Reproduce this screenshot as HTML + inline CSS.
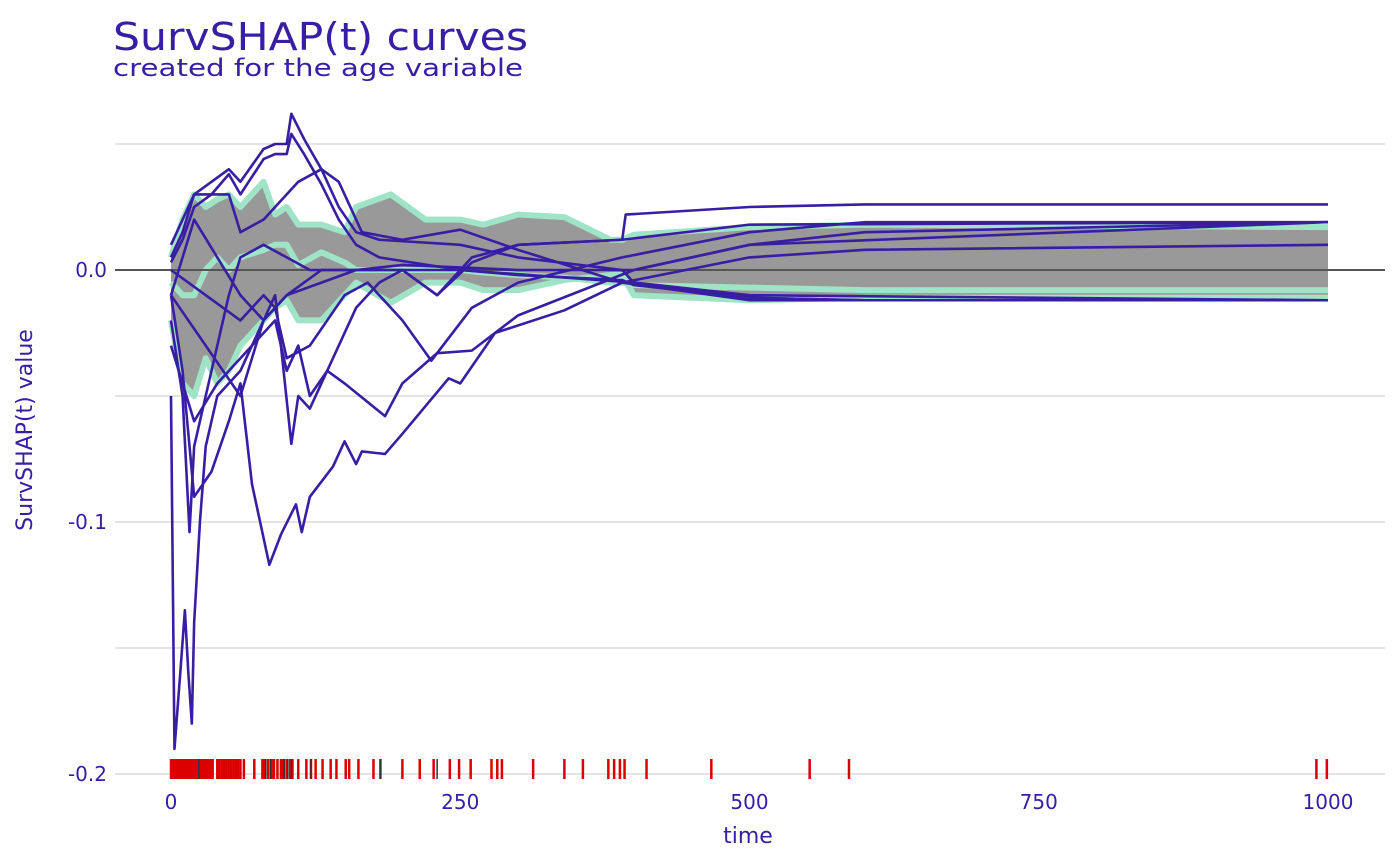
<!DOCTYPE html>
<html><head><meta charset="utf-8"><style>
html,body{margin:0;padding:0;background:#fff}
svg{display:block;font-family:"DejaVu Sans","Liberation Sans",sans-serif}
</style></head><body>
<svg id="chart" width="1400" height="866" viewBox="0 0 1400 866" xmlns="http://www.w3.org/2000/svg">
<text x="113" y="50" font-size="38" fill="#371ea3" textLength="415" lengthAdjust="spacingAndGlyphs">SurvSHAP(t) curves</text>
<text x="113" y="76" font-size="24" fill="#371ea3" textLength="410" lengthAdjust="spacingAndGlyphs">created for the age variable</text>
<text transform="translate(32,430) rotate(-90)" text-anchor="middle" font-size="22" fill="#371ea3">SurvSHAP(t) value</text>
<text x="748" y="843" text-anchor="middle" font-size="22" fill="#371ea3">time</text>
<g id="grid"></g>
<g id="band"></g>
<g id="curves"></g>
<g id="rug"></g>
<g id="axes"></g>
</svg>
<script>
const xTicks=[0,250,500,750,1000];
const yTicks=[-0.2,-0.1,0.0];
const yGrid=[-0.2,-0.15,-0.1,-0.05,0.05];
const bandTimes=[0,10,20,30,40,50,60,80,90,100,110,130,150,160,190,220,250,270,300,340,380,390,400,500,600,1000];
const bandUpper=[0.005,0.02,0.03,0.025,0.028,0.03,0.025,0.035,0.022,0.025,0.018,0.018,0.015,0.025,0.03,0.02,0.02,0.018,0.022,0.021,0.012,0.012,0.014,0.017,0.018,0.017];
const bandLower=[-0.02,-0.045,-0.05,-0.035,-0.045,-0.04,-0.03,-0.02,-0.015,-0.012,-0.02,-0.02,-0.01,-0.005,-0.013,-0.005,-0.005,-0.008,-0.008,-0.004,-0.002,-0.002,-0.01,-0.012,-0.011,-0.011];
const bandMean=[-0.005,-0.01,-0.01,0.0,0.005,0.0,0.005,0.008,0.01,0.01,0.002,0.007,0.003,0.0,0.0,0.0,0.0,-0.001,-0.002,-0.003,-0.005,-0.005,-0.006,-0.007,-0.008,-0.008];
const curveTimes=[
[0,10,20,35,50,60,80,90,100,104,115,130,145,160,180,250,300,390,400,500,600,1000],
[0,10,20,35,50,60,80,90,100,104,115,130,145,160,180,250,300,390,400,500,600,1000],
[0,20,50,60,80,110,130,145,165,200,250,300,390,500,1000],
[0,10,20,40,60,80,100,130,160,200,230,260,300,390,393,500,600,1000],
[0,3,8,12,15,18,20,25,30,40,50,60,70,80,100,130,160,250,400,500,1000],
[0,10,20,35,50,60,70,85,95,108,113,120,140,150,160,165,185,200,240,250,280,340,390,500,600,1000],
[0,20,40,60,90,100,110,120,135,150,185,200,230,260,300,400,500,600,1000],
[0,30,60,80,90,95,104,110,120,140,160,180,200,230,260,300,390,500,1000],
[0,30,60,80,90,100,120,150,170,200,225,260,300,390,500,600,1000],
[0,10,16,20,30,40,50,60,80,100,120,160,200,300,400,500,1000]
];
const curveValues=[
[0.005,0.015,0.03,0.035,0.04,0.035,0.048,0.05,0.05,0.062,0.052,0.04,0.025,0.015,0.012,0.01,0.005,0.0,-0.005,-0.011,-0.012,-0.012],
[0.003,0.012,0.025,0.03,0.038,0.03,0.044,0.046,0.046,0.054,0.046,0.034,0.02,0.01,0.005,0.0,-0.002,-0.004,-0.006,-0.011,-0.012,-0.012],
[0.01,0.03,0.03,0.015,0.02,0.035,0.04,0.035,0.015,0.012,0.016,0.008,-0.005,-0.012,-0.012],
[-0.01,0.005,0.02,0.005,-0.01,-0.02,-0.01,0.0,0.0,0.0,-0.01,0.003,0.01,0.012,0.022,0.025,0.026,0.026],
[-0.05,-0.19,-0.16,-0.135,-0.16,-0.18,-0.14,-0.1,-0.07,-0.05,-0.045,-0.04,-0.03,-0.02,-0.01,-0.005,0.0,0.0,-0.005,-0.01,-0.012],
[-0.01,-0.04,-0.09,-0.08,-0.06,-0.045,-0.085,-0.117,-0.105,-0.093,-0.104,-0.09,-0.078,-0.068,-0.077,-0.072,-0.073,-0.065,-0.043,-0.045,-0.025,-0.016,-0.005,0.005,0.008,0.01],
[-0.03,-0.06,-0.045,-0.035,-0.02,-0.04,-0.03,-0.05,-0.04,-0.045,-0.058,-0.045,-0.033,-0.032,-0.018,0.0,0.01,0.015,0.019],
[-0.01,-0.03,-0.05,-0.02,-0.01,-0.03,-0.069,-0.05,-0.055,-0.035,-0.015,-0.005,0.0,-0.01,0.005,0.01,0.012,0.018,0.019],
[0.0,-0.01,-0.02,-0.01,-0.015,-0.035,-0.03,-0.01,-0.005,-0.02,-0.036,-0.015,-0.005,0.005,0.015,0.019,0.019],
[-0.02,-0.05,-0.104,-0.07,-0.05,-0.03,-0.01,0.005,0.01,0.005,0.0,0.0,0.002,0.0,0.0,0.01,0.019]
];
const rugEvent=[0,1.5,3,4.5,6,7.5,9,10.5,12,13.5,15,16.5,18,19.5,21,22.5,24,25.5,27,28.5,30,31.5,33,34.5,36,40,42,44,46,48,50,52,54,56,58,60,63,72,79,81,84,87,89,92,95,97,100,103,105,110,117,121,125,131,138,143,151,154,162,175,181,200,215,227,241,249,259,277,282,286,313,340,356,378,383,388,392,411,467,552,586,990,999];
const rugCensored=[24,82,86,98,101,104,121,181,230];
const X0=171,XS=1.157,Y0=270,YS=2520;
const sx=t=>X0+t*XS, sy=v=>Y0-v*YS;
const NS="http://www.w3.org/2000/svg";
function mk(tag,attrs,parent){const e=document.createElementNS(NS,tag);for(const k in attrs)e.setAttribute(k,attrs[k]);parent.appendChild(e);return e;}
const grid=document.getElementById('grid'),band=document.getElementById('band'),curves=document.getElementById('curves'),rug=document.getElementById('rug'),axes=document.getElementById('axes');
yGrid.forEach(v=>{const l=mk('line',{x1:115,x2:1385,y1:sy(v),y2:sy(v),stroke:'#e4e4e4','stroke-width':2},grid);

});
let up=bandTimes.map((t,i)=>sx(t)+','+sy(bandUpper[i]));
let lo=bandTimes.map((t,i)=>sx(t)+','+sy(bandLower[i])).reverse();
const poly=mk('polygon',{points:up.concat(lo).join(' '),fill:'#999999',stroke:'none'},band);


[bandUpper,bandLower,bandMean].forEach((arr,k)=>{const p=mk('polyline',{points:bandTimes.map((t,i)=>sx(t)+','+sy(arr[i])).join(' '),fill:'none',stroke:'#9fe4c6','stroke-width':6,'stroke-linejoin':'round'},band);

});
const zl=mk('line',{x1:115,x2:1385,y1:sy(0),y2:sy(0),stroke:'#555','stroke-width':2},band);


curveTimes.forEach((ts,c)=>{const p=mk('polyline',{points:ts.map((t,i)=>sx(t)+','+sy(curveValues[c][i])).join(' '),fill:'none',stroke:'#371ea3','stroke-width':2.6,'stroke-linejoin':'round'},curves);

});
rugEvent.forEach(t=>{const l=mk('line',{x1:sx(t),x2:sx(t),y1:759,y2:779,stroke:'#dd0000','stroke-width':2.5},rug);

});
rugCensored.forEach(t=>{const l=mk('line',{x1:sx(t),x2:sx(t),y1:759,y2:779,stroke:'#333','stroke-width':1.5},rug);

});
xTicks.forEach(t=>{const e=mk('text',{x:sx(t),y:809,'text-anchor':'middle','font-size':20,fill:'#371ea3'},axes);e.textContent=t;

});
yTicks.forEach(v=>{const e=mk('text',{x:107,y:sy(v)+7,'text-anchor':'end','font-size':20,fill:'#371ea3'},axes);e.textContent=v.toFixed(1);

});
</script>
</body></html>
